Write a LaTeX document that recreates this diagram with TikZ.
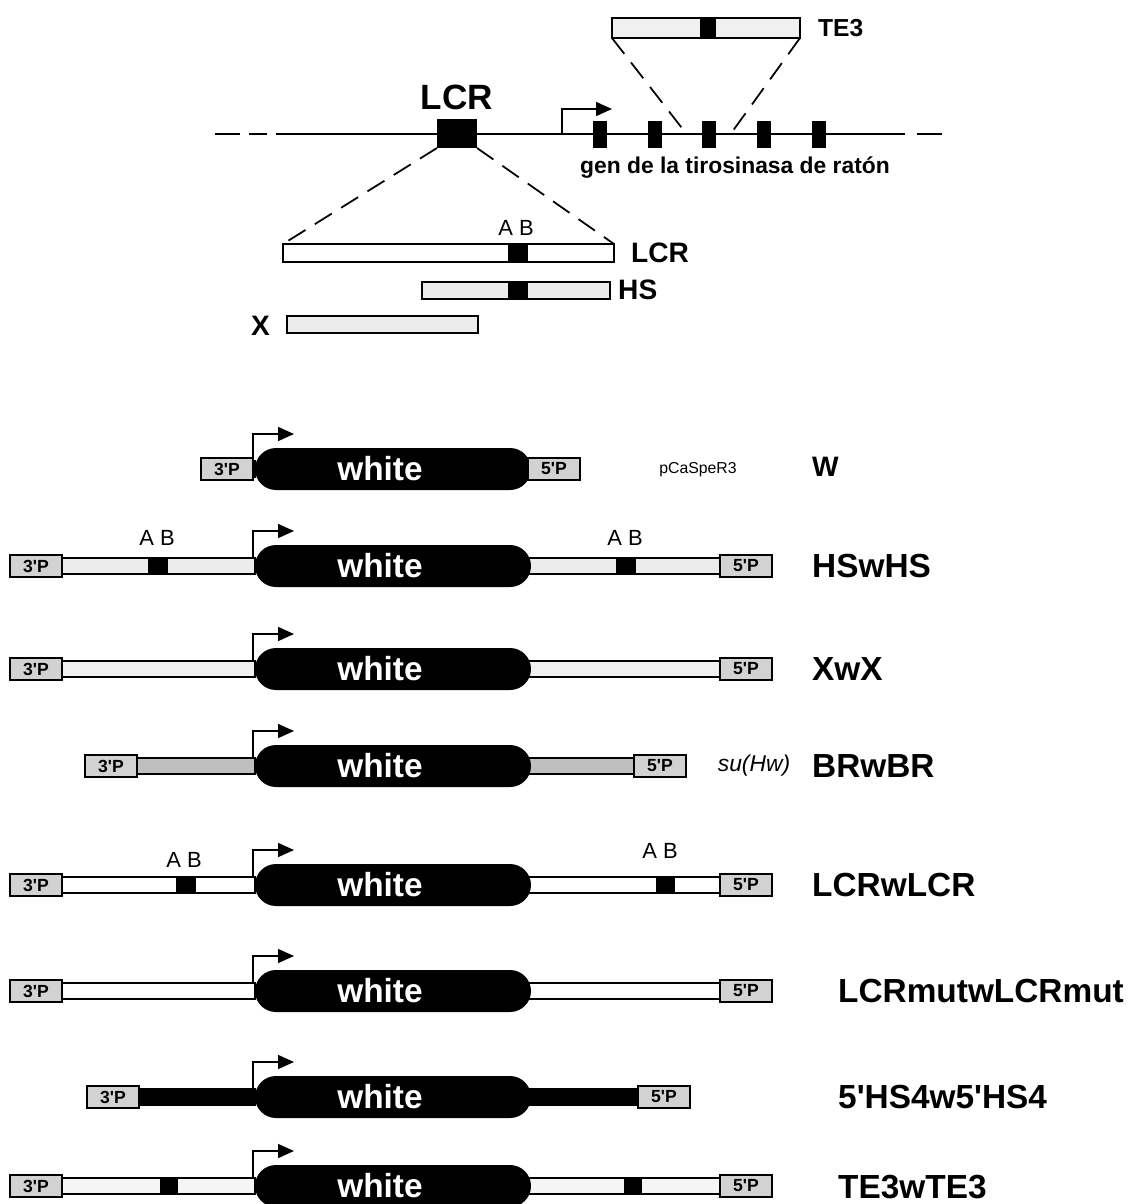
\documentclass[tikz,border=0pt]{standalone}
\usepackage{fontspec}
\setmainfont{Liberation Sans}
\usetikzlibrary{arrows.meta}
\begin{document}
\begin{tikzpicture}[x=0.02cm,y=-0.02cm,
  bar/.style={draw,line width=1pt},
  blk/.style={fill=black},
  pbox/.style={draw,line width=1pt,fill=gray!35,minimum width=1.04cm,minimum height=0.44cm,inner sep=0pt,font=\fontsize{10}{10}\selectfont\bfseries},
  pill/.style={fill=black,rounded corners=0.42cm},
  prom/.style={line width=0.9pt,-{Triangle[length=0.32cm,width=0.28cm]}},
  cname/.style={anchor=west,font=\fontsize{19}{22}\selectfont\bfseries},
  tag/.style={font=\fontsize{16}{18}\selectfont\bfseries},
  dashline/.style={line width=1pt,dash pattern=on 0.4cm off 0.22cm}]
\useasboundingbox (0,0) rectangle (1134,1204);

% mouse tyrosinase locus
\draw[line width=1.5pt] (215,134) -- (240,134);
\draw[line width=1.5pt] (249,134) -- (267,134);
\draw[line width=1.5pt] (276,134) -- (905,134);
\draw[line width=1.5pt] (917,134) -- (942,134);
\fill[blk] (437,119) rectangle (477,148);
\node[font=\fontsize{20}{24}\selectfont\bfseries] (lcrtop) at (457,97) {LCR};
\foreach \ex in {593,648,702,757,812}
  \fill (\ex,121) rectangle +(14,27);
\coordinate (tss) at (562,134);
\draw[prom] (tss) |- (612,109);
\node[font=\fontsize{13}{15}\selectfont\bfseries] (gen) at (735,168) {gen de la tirosinasa de ratón};

% TE3 insert
\filldraw[bar,fill=gray!12] (612,18) rectangle (800,38);
\fill[blk] (700,18) rectangle (716,38);
\node[anchor=west,font=\fontsize{14}{16}\selectfont\bfseries] (te3) at (812,28) {TE3};
\draw[dashline] (612,38) -- (685,132);
\draw[dashline] (800,38) -- (732,132);

% LCR fragments
\draw[dashline] (437,148) -- (283,244);
\draw[dashline] (477,148) -- (614,244);
\filldraw[bar,fill=white] (283,244) rectangle (614,262);
\fill[blk] (508,244) rectangle (528,262);
\node[font=\fontsize{12.5}{14}\selectfont] (ab0) at (516,228) {A B};
\node[tag,anchor=west] (lcrfrag) at (625,253) {LCR};
\filldraw[bar,fill=gray!15] (422,282) rectangle (610,299);
\fill[blk] (508,282) rectangle (528,299);
\node[tag,anchor=west] (hsfrag) at (612,290) {HS};
\filldraw[bar,fill=gray!15] (287,316) rectangle (478,333);
\node[tag,anchor=east] (xfrag) at (276,326) {X};

% constructs
\foreach \n/\y/\xa/\xb/\fl in {w/469/201/580/white, hs/566/10/772/gray!15, x/669/10/772/gray!12,
    br/766/85/686/gray!50, lcr/885/10/772/white, mut/991/10/772/white,
    hsf/1097/87/690/black, te/1186/10/772/gray!8} {
  \filldraw[bar,fill=\fl] (\xa+52,\y-8) rectangle (255,\y+8);
  \filldraw[bar,fill=\fl] (529,\y-8) rectangle (\xb-52,\y+8);
  \fill[pill] (255,\y-21) rectangle (531,\y+21);
  \node[text=white,font=\fontsize{19}{22}\selectfont\bfseries] (w\n) at (380,\y) {white};
  \node[pbox] (p3\n) at (\xa+26,\y) {3\textquotesingle P};
  \node[pbox] (p5\n) at (\xb-26,\y) {5\textquotesingle P};
  \draw[prom] (253,\y-8) |- (294,\y-35);
}

% A B sites
\fill[blk] (148,558) rectangle (168,574);
\fill[blk] (616,558) rectangle (636,574);
\node[font=\fontsize{12.5}{14}\selectfont] (abhs1) at (157,538) {A B};
\node[font=\fontsize{12.5}{14}\selectfont] (abhs2) at (625,538) {A B};
\fill[blk] (176,877) rectangle (196,893);
\fill[blk] (656,877) rectangle (675,893);
\node[font=\fontsize{12.5}{14}\selectfont] (ablcr1) at (184,860) {A B};
\node[font=\fontsize{12.5}{14}\selectfont] (ablcr2) at (660,851) {A B};
\fill[blk] (160,1178) rectangle (178,1194);
\fill[blk] (624,1178) rectangle (642,1194);

% names
\node[font=\fontsize{9}{10}\selectfont] (pcas) at (698,470) {pCaSpeR3};
\node[tag,anchor=west] (lw) at (806,467) {W};
\node[cname] (lhs) at (806,566) {HSwHS};
\node[cname] (lx) at (806,669) {XwX};
\node[font=\fontsize{13}{15}\selectfont\itshape] (suhw) at (754,766) {su(Hw)};
\node[cname] (lbr) at (806,766) {BRwBR};
\node[cname] (llcr) at (806,885) {LCRwLCR};
\node[cname] (lmut) at (832,991) {LCRmutwLCRmut};
\node[cname] (lhsf) at (832,1097) {5\textquotesingle HS4w5\textquotesingle HS4};
\node[cname] (lte) at (832,1187) {TE3wTE3};
\end{tikzpicture}
\end{document}
